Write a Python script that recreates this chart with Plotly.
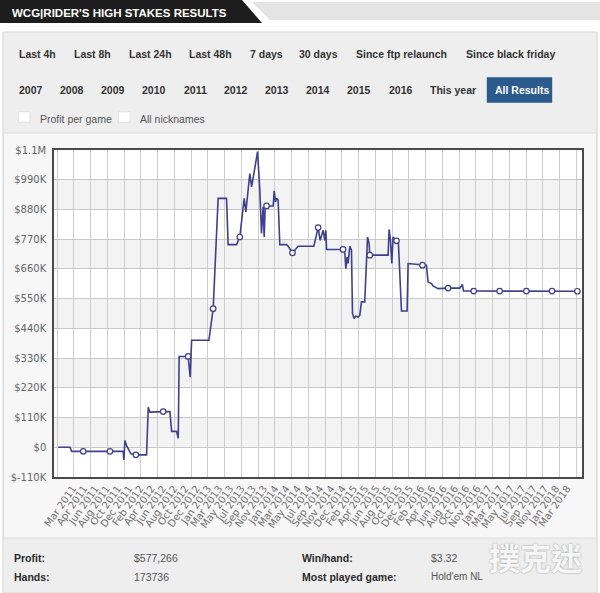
import plotly.graph_objects as go

# ---------------- data ----------------
tick_labels = [
    "Mar 2011", "Apr 2011", "Jun 2011", "Aug 2011", "Oct 2011", "Dec 2011",
    "Feb 2012", "Apr 2012", "Jun 2012", "Aug 2012", "Oct 2012", "Dec 2012",
    "Jan 2013", "Mar 2013", "May 2013", "Jul 2013", "Sep 2013", "Nov 2013",
    "Jan 2014", "Mar 2014", "May 2014", "Jul 2014", "Sep 2014", "Nov 2014", "Dec 2014",
    "Feb 2015", "Apr 2015", "Jun 2015", "Aug 2015", "Oct 2015", "Dec 2015",
    "Feb 2016", "Apr 2016", "Jun 2016", "Aug 2016", "Oct 2016", "Nov 2016",
    "Jan 2017", "Mar 2017", "May 2017", "Jul 2017", "Sep 2017", "Nov 2017",
    "Jan 2018", "Mar 2018",
]

# position along the axis, in tick-label steps
period = [
    -1.28, -0.24, -0.09, 0.94, 3.32, 4.50, 4.56, 4.65, 4.80, 5.19,
    5.63, 6.58, 6.73, 6.88, 8.06, 8.66, 8.81, 9.25, 9.40, 9.48,
    10.28, 10.46, 10.59, 12.13, 12.51, 12.81, 12.95, 13.70, 13.84, 14.59,
    14.88, 15.27, 15.42, 15.77, 15.93, 16.16, 16.46, 16.66, 16.81, 16.96,
    17.05, 17.14, 17.26, 17.85, 17.94, 18.06, 18.15, 18.29, 18.44, 19.04,
    19.18, 19.57, 20.07, 21.47, 21.85, 22.03, 22.30, 22.45, 22.54, 22.60,
    24.07, 24.23, 24.32, 24.43, 24.52, 24.67, 24.82, 24.91, 25.05, 25.20,
    25.41, 25.56, 25.71, 26.00, 26.25, 26.39, 26.45, 28.08, 28.17, 28.29,
    28.41, 28.52, 28.83, 29.00, 29.27, 29.77, 29.86, 31.14, 31.49, 31.64,
    31.94, 32.08, 32.23, 32.53, 33.42, 34.46, 34.70, 34.79, 35.70, 38.01,
    40.39, 42.67, 44.93,
]

# cumulative profit in dollars
profit = [
    0, 0, -15000, -15000, -15000, -15000, -47000, 25000, 6000, -24000,
    -28000, -28000, 148000, 130000, 132000, 132000, 59000, 59000, 33000, 336000,
    336000, 259000, 396000, 396000, 513000, 769000, 921000, 921000, 750000, 750000,
    778000, 921000, 871000, 1013000, 964000, 1019000, 1094000, 952000, 791000, 890000,
    778000, 890000, 893000, 893000, 949000, 908000, 921000, 915000, 750000, 750000,
    744000, 719000, 744000, 744000, 813000, 766000, 803000, 766000, 803000, 732000,
    732000, 717000, 661000, 704000, 680000, 744000, 729000, 495000, 476000, 485000,
    482000, 488000, 538000, 538000, 778000, 754000, 711000, 711000, 806000, 766000,
    680000, 778000, 764000, 754000, 504000, 504000, 680000, 674000, 674000, 612000,
    606000, 597000, 593000, 587000, 589000, 589000, 602000, 578000, 578000, 578000,
    578000, 578000, 577266,
]

marked = [3, 4, 10, 14, 20, 24, 30, 42, 51, 54, 60, 76, 82, 87, 94, 98, 99, 100, 101, 102]

y_ticks = [-110000, 0, 110000, 220000, 330000, 440000, 550000, 660000, 770000, 880000, 990000, 1100000]
y_tick_text = ["$-110K", "$0", "$110K", "$220K", "$330K", "$440K", "$550K",
               "$660K", "$770K", "$880K", "$990K", "$1.1M"]

row1 = ["Last 4h", "Last 8h", "Last 24h", "Last 48h", "7 days", "30 days",
        "Since ftp relaunch", "Since black friday"]
row2 = ["2007", "2008", "2009", "2010", "2011", "2012", "2013", "2014", "2015",
        "2016", "This year", "All Results"]

# ---------------- layout helpers ----------------
FW, FH = 600, 593
L, T, W, H = 54, 150, 528, 327


def px(x):
    return (x - L) / W


def py(y):
    return (T + H - y) / H


row1_x = [17, 71.6, 126.7, 187.1, 247.6, 297.4, 354, 464.2]
row2_x = [17, 58.2, 99.1, 140.1, 181.8, 222, 262.9, 303.5, 345.2, 386.5, 427.9, 492.5]

fig = go.Figure()

fig.add_trace(go.Scatter(
    x=period, y=profit, mode="lines",
    line=dict(color="#3f3f8f", width=1.6),
    hoverinfo="skip", showlegend=False,
))
fig.add_trace(go.Scatter(
    x=[period[i] for i in marked], y=[profit[i] for i in marked], mode="markers",
    marker=dict(size=5.5, color="white", line=dict(color="#3f3f8f", width=1.2)),
    hoverinfo="skip", showlegend=False,
))

shapes = []


def rect(x0, y0, x1, y1, fill, line=None, lw=0):
    shapes.append(dict(
        type="rect", xref="paper", yref="paper",
        x0=px(x0), x1=px(x1), y0=py(y0), y1=py(y1),
        fillcolor=fill, line=dict(color=line or fill, width=lw), layer="below",
    ))


def poly(points, fill):
    d = "M " + " L ".join(f"{px(a):.5f},{py(b):.5f}" for a, b in points) + " Z"
    shapes.append(dict(type="path", xref="paper", yref="paper", path=d,
                       fillcolor=fill, line=dict(width=0), layer="below"))


# header tab and stripe
poly([(0, 0), (242, 0), (262, 23), (0, 23)], "#1d1d1d")
poly([(252, 2), (600, 2), (600, 20), (270, 20)], "#e4e4e4")
# container
rect(3, 32, 597, 593, "#eeeeee", "#d6d6d6", 1)
rect(3.5, 133, 596.5, 538, "#f7f7f7", "#dcdcdc", 1)
# plot area white background
rect(L, T, L + W, T + H, "#ffffff")
# alternating bands
for lo in [0, 220000, 440000, 660000, 880000]:
    shapes.append(dict(type="rect", xref="x domain", yref="y", x0=0, x1=1,
                       y0=lo, y1=lo + 110000, fillcolor="#f3f3f3",
                       line=dict(width=0), layer="below"))
# button + checkboxes
rect(486.8, 77.3, 552.2, 102.7, "#2b5a8d")
rect(18.4, 111.7, 29.9, 122.3, "#ffffff", "#e2e2e2", 1)
rect(118.6, 111.7, 130.1, 122.3, "#ffffff", "#e2e2e2", 1)

ann = []


def text(x, y, s, size=11, color="#333333", bold=False, family="Liberation Sans, Arial",
         xanchor="left", **kw):
    ann.append(dict(
        x=px(x), y=py(y), xref="paper", yref="paper", text=(f"<b>{s}</b>" if bold else s),
        showarrow=False, xanchor=xanchor, yanchor="middle",
        font=dict(size=size, color=color, family=family, **kw),
    ))


text(10, 12.5, "WCG|RIDER'S HIGH STAKES RESULTS", size=11.5, color="#ffffff", bold=True)
for s, x in zip(row1, row1_x):
    text(x, 54.5, s, size=10.5, color="#333333", bold=True)
for s, x in zip(row2, row2_x):
    text(x, 90, s, size=10.5, color="#ffffff" if s == "All Results" else "#333333", bold=True)
text(38, 118.5, "Profit per game", size=10.5, color="#555555")
text(137.8, 118.5, "All nicknames", size=10.5, color="#555555")

text(11.5, 558, "Profit:", size=10.5, color="#2a2a2a", bold=True)
text(132, 558, "$577,266", size=10.5, color="#555555")
text(300.4, 558, "Win/hand:", size=10.5, color="#2a2a2a", bold=True)
text(428.6, 558, "$3.32", size=10.5, color="#555555")
text(11.5, 576.5, "Hands:", size=10.5, color="#2a2a2a", bold=True)
text(132, 576.5, "173736", size=10.5, color="#555555")
text(300.4, 576.5, "Most played game:", size=10.5, color="#2a2a2a", bold=True)
text(428.6, 576.5, "Hold'em NL", size=10, color="#555555")

# watermark
text(535, 556, "撲克迷", size=31, color="rgba(255,255,255,0.92)", bold=True,
     family="Noto Sans CJK TC", xanchor="center", shadow="0px 0px 2px #8a8a8a")

fig.update_layout(
    width=FW, height=FH,
    margin=dict(l=L, r=FW - L - W, t=T, b=FH - T - H, pad=0),
    paper_bgcolor="#ffffff", plot_bgcolor="rgba(0,0,0,0)",
    shapes=shapes, annotations=ann,
    showlegend=False,
    xaxis=dict(
        range=[-1.66, 45.34], tickmode="array", tickvals=list(range(len(tick_labels))),
        ticktext=tick_labels, tickangle=-55, showgrid=False, zeroline=False,
        ticks="", tickfont=dict(family="DejaVu Sans, Verdana", size=10, color="#707070"),
        showline=True, mirror=True, linecolor="#4a4a4a", linewidth=1.5,
        minor=dict(tick0=0.116, dtick=1.491, showgrid=True, gridcolor="#cdcdcd", gridwidth=1),
        fixedrange=True,
    ),
    yaxis=dict(
        range=[-110000, 1100000], tickmode="array", tickvals=y_ticks, ticktext=y_tick_text,
        showgrid=True, gridcolor="#c8c8c8", gridwidth=1, zeroline=False, ticks="",
        tickfont=dict(family="DejaVu Sans, Verdana", size=10, color="#666666"),
        showline=True, mirror=True, linecolor="#4a4a4a", linewidth=1.5,
        ticklabelstandoff=4, fixedrange=True,
    ),
)

fig.write_html("out.html", config={"displayModeBar": False},
               post_script="document.body.style.margin='0px';")
